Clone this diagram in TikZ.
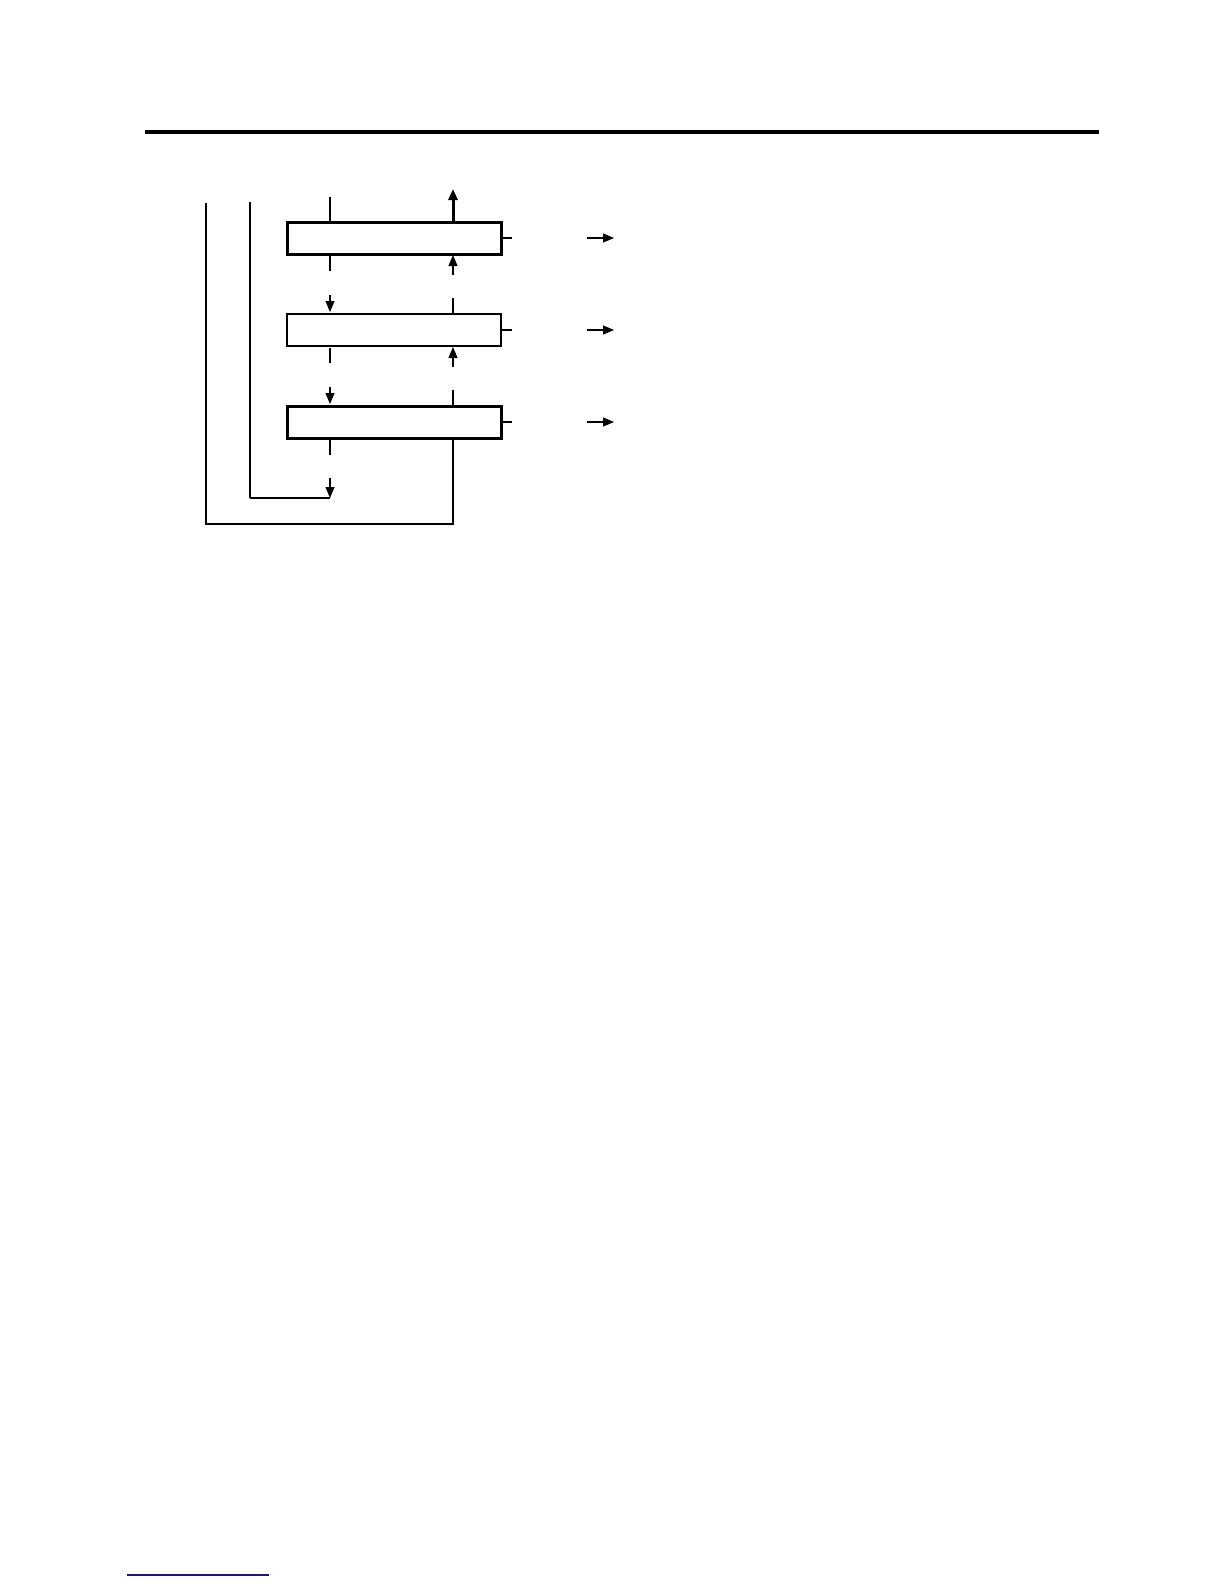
\documentclass[tikz,border=0pt]{standalone}
\usepackage{tikz}
\usetikzlibrary{positioning,calc,arrows.meta}
\definecolor{linkblue}{RGB}{24,24,128}
\tikzset{
	stage/.style={draw, line width=1.5pt, minimum width=107pt, minimum height=16pt, inner sep=0pt, outer sep=0pt},
	link/.style={line width=0.6pt},
	pipe/.style={line width=1.2pt},
	flow/.style={line width=0.6pt, -{Triangle[length=5.5pt,width=4.5pt]}},
}
\newcommand{\outTick}[1]{\draw[link] (#1.east) -- ++(11,0);
	\draw[flow] ($(#1.east)+(86,0)$) -- ++(27,0);}

\begin{document}
\begin{tikzpicture}[x=0.5pt, y=-0.5pt, node distance=30pt]
	\useasboundingbox (0,0) rectangle (1224,1584);
	\draw[line width=2pt] (145,132.5) -- (1099,132.5);

	\node[stage] (s1) at (394,238) {};
	\node[stage, line width=1pt, below=of s1] (s2) {};
	\node[stage, below=of s2] (s3) {};

	\foreach \s in {s1,s2,s3}{
		\coordinate (\s-lt) at ($(\s.north west)+(43,0)$);
		\coordinate (\s-lb) at ($(\s.south west)+(43,0)$);
		\coordinate (\s-rt) at ($(\s.north west)+(166,0)$);
		\coordinate (\s-rb) at ($(\s.south west)+(166,0)$);
		\outTick{\s}
	}

	% feed and top product
	\draw[link] ($(s1-lt)+(0,-25)$) -- (s1-lt);
	\draw[flow, line width=1.5pt] (s1-rt) -- ++(0,-33);

	% between stages
	\foreach \a/\b in {s1/s2,s2/s3}{
		\draw[link] ($(\a-lb)+(0,2)$) -- ++(0,15);
		\draw[flow] ($(\b-lt)+(0,-19)$) -- ++(0,17);
		\draw[flow] ($(\a-rb)+(0,21)$) -- ++(0,-20);
		\draw[link] ($(\b-rt)+(0,-16)$) -- (\b-rt);
	}

	% bottom and return lines
	\draw[link] ($(s3-lb)+(0,2)$) -- ++(0,15);
	\coordinate (sink) at ($(s3-lb)+(0,60)$);
	\draw[flow] ($(sink)+(0,-20)$) -- (sink);
	\coordinate (bypass) at (250,202);
	\draw[pipe] (bypass) -- (bypass |- sink);
	\draw[link] (bypass |- sink) -- (sink);
	\coordinate (ret) at (206,203);
	\draw[pipe] (s3-rb) -- ++(0,86) -| (ret);

	\draw[linkblue, line width=0.8pt] (127,1575) -- (269,1575);
\end{tikzpicture}
\end{document}
